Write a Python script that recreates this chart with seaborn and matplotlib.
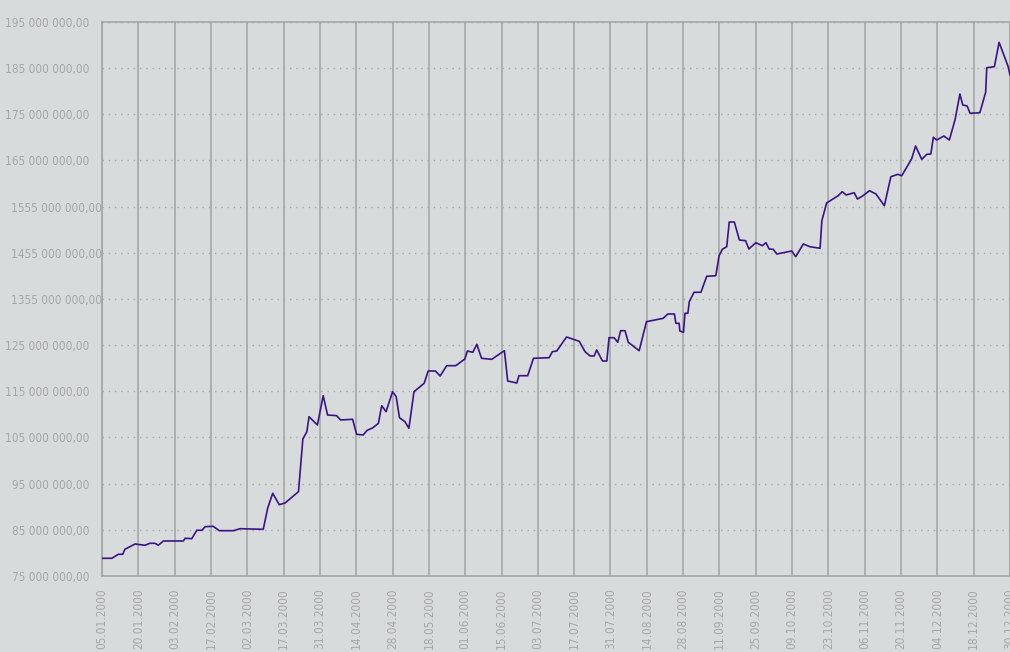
import numpy as np
import pandas as pd
import matplotlib
matplotlib.use('Agg')
import matplotlib.pyplot as plt
import seaborn as sns
from matplotlib.transforms import ScaledTranslation

# === Data (position in trading days, value in millions) ===
day_idx = [0.0, 2.7, 4.5, 5.7, 6.3, 7.7, 9.1, 10.5, 11.8, 13.2, 14.6, 15.5, 16.9, 22.4, 22.9,
           24.7, 26.1, 27.5, 28.4, 30.6, 32.3, 36.2, 38.0, 44.4, 45.6, 47.0, 48.8, 50.4, 54.1,
           55.3, 56.4, 57.0, 59.3, 60.9, 62.1, 64.6, 65.7, 69.0, 70.1, 71.9, 73.0, 74.5, 76.1,
           77.0, 78.2, 80.0, 81.0, 81.9, 83.4, 84.5, 85.9, 88.7, 89.8, 91.8, 93.1, 94.9, 97.4,
           99.9, 100.6, 102.1, 103.2, 104.5, 107.3, 110.8, 111.7, 114.2, 114.8, 117.2, 118.8,
           123.1, 124.0, 125.2, 127.9, 131.4, 133.0, 134.4, 135.5, 136.2, 137.8, 139.0, 139.6,
           141.0, 142.0, 142.8, 144.0, 144.9, 147.9, 149.9, 154.5, 155.8, 157.6, 158.0, 158.9,
           159.1, 160.1, 160.5, 161.3, 161.7, 163.0, 164.9, 166.5, 169.0, 169.9, 170.8, 172.0,
           172.7, 174.1, 175.5, 177.2, 178.1, 180.0, 181.8, 182.8, 183.7, 184.8, 185.8, 189.9,
           191.0, 193.1, 194.9, 197.7, 198.2, 199.5, 202.7, 203.8, 204.9, 207.1, 208.0, 209.4,
           211.3, 213.1, 215.4, 217.2, 219.1, 220.2, 222.9, 224.0, 225.7, 227.1, 228.2, 228.9,
           229.8, 231.8, 233.3, 234.9, 236.2, 237.0, 238.2, 239.0, 241.7, 243.3, 243.6, 245.7,
           247.0, 249.5, 250.0]
value_mln = [78.83, 78.83, 79.70, 79.70, 80.78, 81.35, 81.93, 81.78, 81.65, 82.08, 82.08, 81.65,
             82.58, 82.58, 83.17, 83.08, 84.90, 84.90, 85.68, 85.76, 84.81, 84.81, 85.24, 85.11,
             89.66, 92.91, 90.44, 90.81, 93.26, 104.67, 106.25, 109.50, 107.70, 114.05, 109.87,
             109.72, 108.79, 108.94, 105.69, 105.54, 106.56, 107.06, 108.07, 111.89, 110.59,
             114.92, 113.83, 109.29, 108.42, 106.99, 114.92, 116.74, 119.40, 119.40, 118.32,
             120.55, 120.55, 122.00, 123.73, 123.45, 125.18, 122.15, 121.93, 123.80, 117.23,
             116.80, 118.38, 118.38, 122.15, 122.28, 123.58, 123.73, 126.76, 125.83, 123.58,
             122.65, 122.65, 123.95, 121.57, 121.57, 126.61, 126.61, 125.62, 128.13, 128.13,
             125.62, 123.80, 130.08, 130.81, 131.75, 131.75, 129.73, 129.73, 128.06, 127.78,
             131.90, 131.90, 134.41, 136.45, 136.45, 139.91, 140.04, 144.37, 145.76, 146.32,
             151.67, 151.67, 147.77, 147.62, 145.82, 147.19, 146.54, 147.19, 145.82, 145.76,
             144.74, 145.39, 144.16, 146.91, 146.32, 145.98, 151.96, 155.79, 157.37, 158.24,
             157.52, 158.02, 156.65, 157.30, 158.45, 157.74, 155.20, 161.48, 162.00, 161.70,
             165.32, 168.13, 165.25, 166.34, 166.40, 170.02, 169.43, 170.30, 169.43, 173.92,
             179.40, 177.02, 176.80, 175.22, 175.35, 179.77, 185.09, 185.31, 190.60, 185.31,
             183.50]

tick_idx = list(range(0, 251, 10))
tick_dates = ['05.01.2000', '20.01.2000', '03.02.2000', '17.02.2000', '02.03.2000',
              '17.03.2000', '31.03.2000', '14.04.2000', '28.04.2000', '18.05.2000',
              '01.06.2000', '15.06.2000', '03.07.2000', '17.07.2000', '31.07.2000',
              '14.08.2000', '28.08.2000', '11.09.2000', '25.09.2000', '09.10.2000',
              '23.10.2000', '06.11.2000', '20.11.2000', '04.12.2000', '18.12.2000',
              '30.12.2000']

y_ticks_mln = list(range(75, 196, 10))
y_labels = ['75 000 000,00', '85 000 000,00', '95 000 000,00', '105 000 000,00',
            '115 000 000,00', '125 000 000,00', '1355 000 000,00', '1455 000 000,00',
            '1555 000 000,00', '165 000 000,00', '175 000 000,00', '185 000 000,00',
            '195 000 000,00']

# === Style ===
bg = '#d8dbdc'
grid_col = '#a2a2a2'
text_col = '#a6a6a6'
sns.set_theme(style='white')
plt.rcParams['font.family'] = ['DejaVu Sans']
plt.rcParams['font.stretch'] = 'condensed'

fig = plt.figure(figsize=(10.1, 6.52), dpi=100, facecolor=bg)
ax = fig.add_axes([0.101, 0.1166, 0.899, 0.8497])
ax.set_facecolor(bg)

df = pd.DataFrame({'idx': day_idx, 'value': np.array(value_mln) * 1e6})
sns.lineplot(data=df, x='idx', y='value', color='#3a1486', linewidth=1.2, ax=ax, zorder=3)

ax.set_xlim(0, 250)
ax.set_ylim(75e6, 195e6)
ax.set_xticks(tick_idx)
ax.set_xticklabels(tick_dates, rotation=90)
ax.set_yticks([v * 1e6 for v in y_ticks_mln])
ax.set_yticklabels(y_labels)
ax.set_xlabel('')
ax.set_ylabel('')

ax.grid(axis='x', color=grid_col, linewidth=1.1, linestyle='-')
ax.grid(axis='y', color='#a9a9a9', linewidth=1.0, linestyle=(0, (1, 3.5)))
ax.set_axisbelow(True)

for side in ['left', 'bottom', 'top', 'right']:
    ax.spines[side].set_color(grid_col)
    ax.spines[side].set_linewidth(1.1)

ax.tick_params(axis='y', length=6, width=0.9, color='#b0b0b0', pad=3,
               labelsize=8.5, labelcolor=text_col)
ax.tick_params(axis='x', length=0, pad=9, labelsize=8.5, labelcolor=text_col)

# the longer labels sit further right in the original
shift = ScaledTranslation(12 / 100, 0, fig.dpi_scale_trans)
for lab in ax.get_yticklabels():
    if lab.get_text().startswith('1') and len(lab.get_text()) > 14:
        lab.set_transform(lab.get_transform() + shift)

fig.savefig('out.png', dpi=100, facecolor=bg)
